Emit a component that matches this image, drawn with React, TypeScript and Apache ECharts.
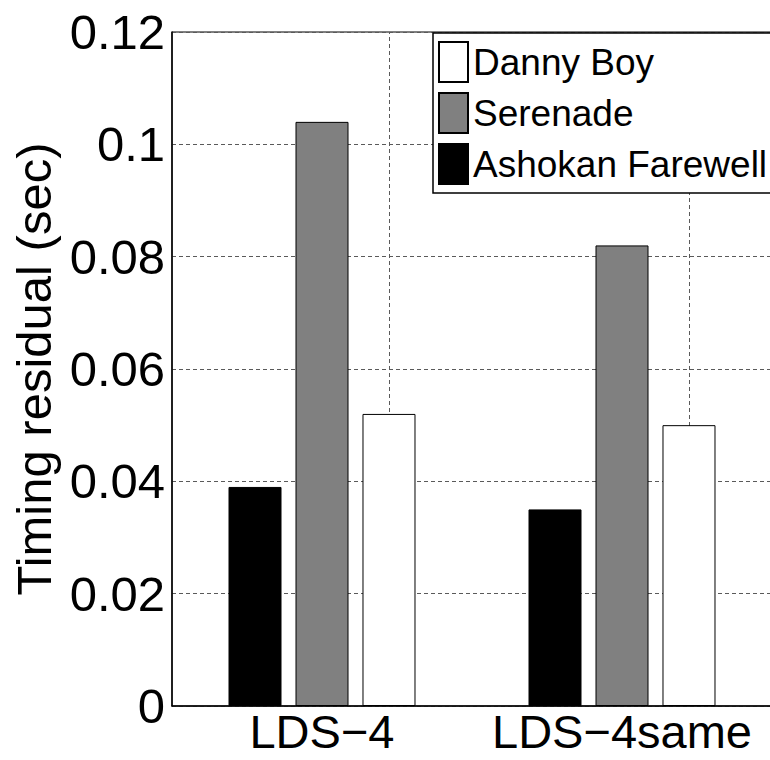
import React, { useEffect, useRef } from "react";
import * as echarts from "echarts";

const categories = ["LDS\u22124", "LDS\u22124same"];
const ashokanFarewell = [0.039, 0.035];
const serenade = [0.104, 0.082];
const dannyBoy = [0.052, 0.05];
const legendOrder = ["Danny Boy", "Serenade", "Ashokan Farewell"];
const yTicks = { min: 0, max: 0.12, interval: 0.02 };

const FONT = "'Liberation Sans', Arial, Helvetica, sans-serif";
const GRID_LINE = { color: "#5a5a5a", type: [4, 3] as number[], width: 1 };

export default function App() {
  const ref = useRef<HTMLDivElement>(null);
  useEffect(() => {
    if (!ref.current) return;
    const chart = echarts.init(ref.current, undefined, { renderer: "svg" });
    const barCommon = {
      type: "bar" as const,
      barWidth: 53,
      barGap: "26.4%",
    };
    chart.setOption({
      animation: false,
      backgroundColor: "#fff",
      textStyle: { fontFamily: FONT },
      grid: {
        left: 172,
        top: 32,
        right: 0,
        bottom: 54,
        show: true,
        borderColor: "#000",
        borderWidth: 1,
        backgroundColor: "transparent",
      },
      legend: {
        data: legendOrder,
        orient: "vertical",
        left: 433,
        top: 33,
        itemWidth: 29,
        itemHeight: 40,
        itemGap: 9,
        padding: [8, 5, 8, 5],
        borderColor: "#000",
        borderWidth: 1.5,
        backgroundColor: "#fff",
        icon: "rect",
        selectedMode: false,
        textStyle: {
          fontFamily: FONT,
          fontSize: 37,
          color: "#000",
          lineHeight: 40,
        },
      },
      xAxis: {
        type: "category",
        data: categories,
        axisLine: { lineStyle: { color: "#000", width: 1.5 } },
        axisTick: { show: false },
        axisLabel: {
          interval: 0,
          hideOverlap: false,
          fontFamily: FONT,
          fontSize: 47,
          lineHeight: 40,
          color: "#000",
          margin: 5,
        },
        splitLine: { show: false },
      },
      yAxis: {
        type: "value",
        min: yTicks.min,
        max: yTicks.max,
        interval: yTicks.interval,
        name: "Timing residual (sec)",
        nameLocation: "middle",
        nameGap: 112,
        nameTextStyle: { fontFamily: FONT, fontSize: 49, color: "#000" },
        axisLine: { show: true, lineStyle: { color: "#000", width: 1.5 } },
        axisTick: { show: false },
        axisLabel: {
          fontFamily: FONT,
          fontSize: 49,
          color: "#000",
          margin: 7,
          formatter: (v: number) => String(parseFloat(v.toFixed(2))),
        },
        splitLine: { show: true, lineStyle: GRID_LINE },
      },
      series: [
        {
          ...barCommon,
          name: "Ashokan Farewell",
          data: ashokanFarewell,
          itemStyle: { color: "#000", borderColor: "#000", borderWidth: 1 },
        },
        {
          ...barCommon,
          name: "Serenade",
          data: serenade,
          itemStyle: { color: "#808080", borderColor: "#000", borderWidth: 1 },
        },
        {
          ...barCommon,
          name: "Danny Boy",
          data: dannyBoy,
          itemStyle: { color: "#fff", borderColor: "#000", borderWidth: 1 },
          markLine: {
            silent: true,
            z: 1,
            symbol: "none",
            label: { show: false },
            lineStyle: GRID_LINE,
            data: categories.map((c) => ({ xAxis: c })),
          },
        },
      ],
    });
    return () => chart.dispose();
  }, []);
  return (
    <div
      style={{
        position: "absolute",
        left: 0,
        top: 0,
        width: 770,
        height: 760,
        overflow: "hidden",
        background: "#fff",
      }}
    >
      <div ref={ref} style={{ width: 772, height: 760 }} />
    </div>
  );
}
